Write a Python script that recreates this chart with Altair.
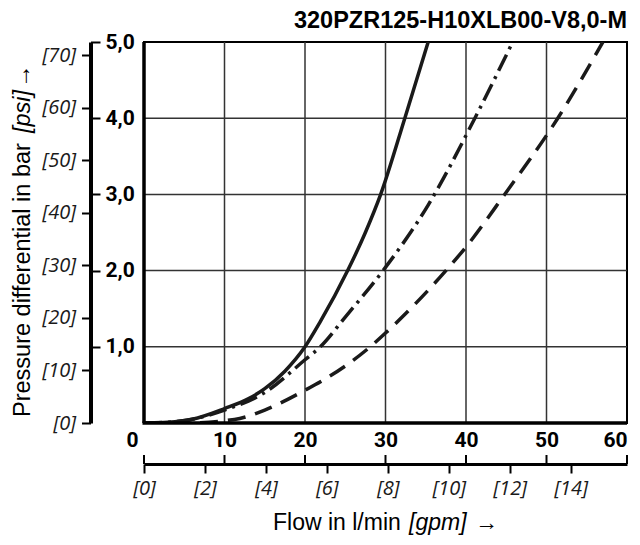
import altair as alt
import pandas as pd

# ---- data ----
solid_x = [0, 3, 6, 10, 13, 15, 17.5, 20, 21.9, 25.3, 27.5, 29.4, 32.4, 35.3]
solid_y = [0, 0.01, 0.05, 0.19, 0.32, 0.45, 0.68, 1.0, 1.33, 2.0, 2.5, 3.0, 4.0, 5.0]

dashdot_x = [0, 3, 6, 10, 15, 20, 21.9, 25, 29.7, 35.3, 41.1, 45.8]
dashdot_y = [0, 0.01, 0.05, 0.17, 0.40, 0.83, 1.0, 1.39, 2.0, 2.86, 4.0, 5.0]

dashed_x = [0, 5, 10, 11.9, 15, 20, 22.7, 28.1, 30, 37.5, 40, 44.8, 51.4, 57]
dashed_y = [0, 0.0, 0.03, 0.06, 0.17, 0.43, 0.59, 1.0, 1.18, 2.0, 2.31, 3.0, 4.0, 5.0]

flow_ticks = [0, 10, 20, 30, 40, 50, 60]
bar_ticks = [1, 2, 3, 4, 5]
psi_ticks = [0, 10, 20, 30, 40, 50, 60, 70]
gpm_ticks = [0, 2, 4, 6, 8, 10, 12, 14]
grid_x = [10, 20, 30, 40, 50]
grid_y = [1, 2, 3, 4]

title_text = "320PZR125-H10XLB00-V8,0-M"

W, H = 483, 381
LPM_PER_GPM = 3.785411784
PSI_PER_BAR = 14.5037738

LABEL_FONT = "Roboto"
ITALIC_FONT = "Open Sans"
TITLE_FONT = "Liberation Sans"

X = alt.X(
    "x:Q",
    scale=alt.Scale(domain=[0, 60], nice=False, zero=False),
    axis=alt.Axis(
        orient="bottom", values=flow_ticks, domain=False, ticks=False, grid=False,
        labelFont=LABEL_FONT, labelFontWeight="bold", labelFontSize=21,
        labelColor="black", labelPadding=6, labelFlush=False,
        labelAlign=alt.ExprRef(expr="datum.value == 0 ? 'right' : datum.value == 60 ? 'right' : 'center'"),
        labelOffset=alt.ExprRef(expr="datum.value == 0 ? -6 : 0"),
        title=None,
    ),
)
Y = alt.Y(
    "y:Q",
    scale=alt.Scale(domain=[0, 5], nice=False, zero=False),
    axis=alt.Axis(
        orient="left", values=bar_ticks, offset=44, domain=False, ticks=True,
        tickSize=9.5, tickWidth=2, tickColor="black", grid=False,
        labelFont=LABEL_FONT, labelFontWeight="bold", labelFontSize=21,
        labelColor="black", labelAlign="left", labelPadding=-14.5,
        labelExpr="replace(format(datum.value, '.1f'), '.', ',')",
        title=None,
    ),
)

one = pd.DataFrame({"x": [0], "y": [0]})

vgrid = alt.Chart(pd.DataFrame({"x": grid_x})).mark_rule(color="#333333", strokeWidth=1.5).encode(
    x=X, y=alt.value(0), y2=alt.value(H))
hgrid = alt.Chart(pd.DataFrame({"y": grid_y})).mark_rule(color="#333333", strokeWidth=1.5).encode(
    y=Y, x=alt.value(0), x2=alt.value(W))


def curve(xs, ys, dash):
    df = pd.DataFrame({"x": xs, "y": ys})
    kw = dict(color="#1a1a1a", strokeWidth=3.5, interpolate="monotone", strokeCap="butt", clip=True)
    if dash:
        kw["strokeDash"] = dash
    return alt.Chart(df).mark_line(**kw).encode(x=X, y=Y)


l_solid = curve(solid_x, solid_y, None)
l_dashdot = curve(dashdot_x, dashdot_y, [18, 6, 3, 6])
l_dashed = curve(dashed_x, dashed_y, [18, 10])

left_border = alt.Chart(one).mark_rule(color="black", strokeWidth=3.5).encode(
    x=alt.value(0), y=alt.value(0), y2=alt.value(H))
bottom_border = alt.Chart(one).mark_rule(color="black", strokeWidth=3.5).encode(
    y=alt.value(H), x=alt.value(-1.5), x2=alt.value(W))

up_ticks = alt.Chart(pd.DataFrame({"x": flow_ticks})).mark_rule(color="black", strokeWidth=2).encode(
    x=X, y=alt.value(H + 32), y2=alt.value(H + 41))


def txt(text, x, y, size, style="normal", weight="normal", angle=0, align="left", font=TITLE_FONT):
    return alt.Chart(one).mark_text(
        text=text, font=font, fontSize=size, fontStyle=style, fontWeight=weight,
        angle=angle, align=align, baseline="alphabetic", color="black",
    ).encode(x=alt.value(x), y=alt.value(y))


titles = [
    txt(title_text, W, -14, 23.5, weight="bold", align="right"),
    txt("Flow in l/min", 129, 488, 23),
    txt("[gpm]", 265, 488, 23, style="italic"),
    txt("\u2192", 331, 488, 23),
    txt("Pressure differential in bar", -114, 375, 23.5, angle=270),
    txt("[psi]", -114, 91, 23.5, style="italic", angle=270),
    txt("\u2192", -114, 46, 23.5, angle=270),
]

main = alt.layer(vgrid, hgrid, l_dashed, l_dashdot, l_solid, left_border, bottom_border, up_ticks, *titles)

ITALIC_SIZE = 20

secondary = alt.Chart(pd.DataFrame({"gpm": [0], "psi": [0]})).mark_point(opacity=0).encode(
    x=alt.X(
        "gpm:Q",
        scale=alt.Scale(domain=[0, 60 / LPM_PER_GPM], nice=False, zero=False),
        axis=alt.Axis(
            orient="bottom", offset=41, values=gpm_ticks, domain=True, domainColor="black",
            domainWidth=3, ticks=True, tickSize=9, tickWidth=2, tickColor="black", grid=False,
            labelFont=ITALIC_FONT, labelFontStyle="italic", labelFontWeight="normal", labelFontSize=ITALIC_SIZE,
            labelColor="#1a1a1a", labelPadding=5, labelFlush=False,
            labelExpr="'[' + datum.value + ']'", title=None,
        ),
    ),
    y=alt.Y(
        "psi:Q",
        scale=alt.Scale(domain=[0, 5 * PSI_PER_BAR], nice=False, zero=False),
        axis=alt.Axis(
            orient="left", offset=53.5, values=psi_ticks, domain=True, domainColor="black",
            domainWidth=4, ticks=True, tickSize=9, tickWidth=2, tickColor="black", grid=False,
            labelFont=ITALIC_FONT, labelFontStyle="italic", labelFontWeight="normal", labelFontSize=ITALIC_SIZE,
            labelColor="#1a1a1a", labelPadding=6, labelFlush=False,
            labelExpr="'[' + datum.value + ']'", title=None,
        ),
    ),
)

chart = alt.layer(main, secondary).resolve_scale(x="independent", y="independent").properties(
    width=W, height=H,
    autosize=alt.AutoSizeParams(type="none"),
    padding={"left": 136, "top": 34, "right": 5, "bottom": 114},
    background="white",
).configure_view(stroke="black", strokeWidth=2)

chart.save("out.html", embed_options={"renderer": "svg", "actions": False})
